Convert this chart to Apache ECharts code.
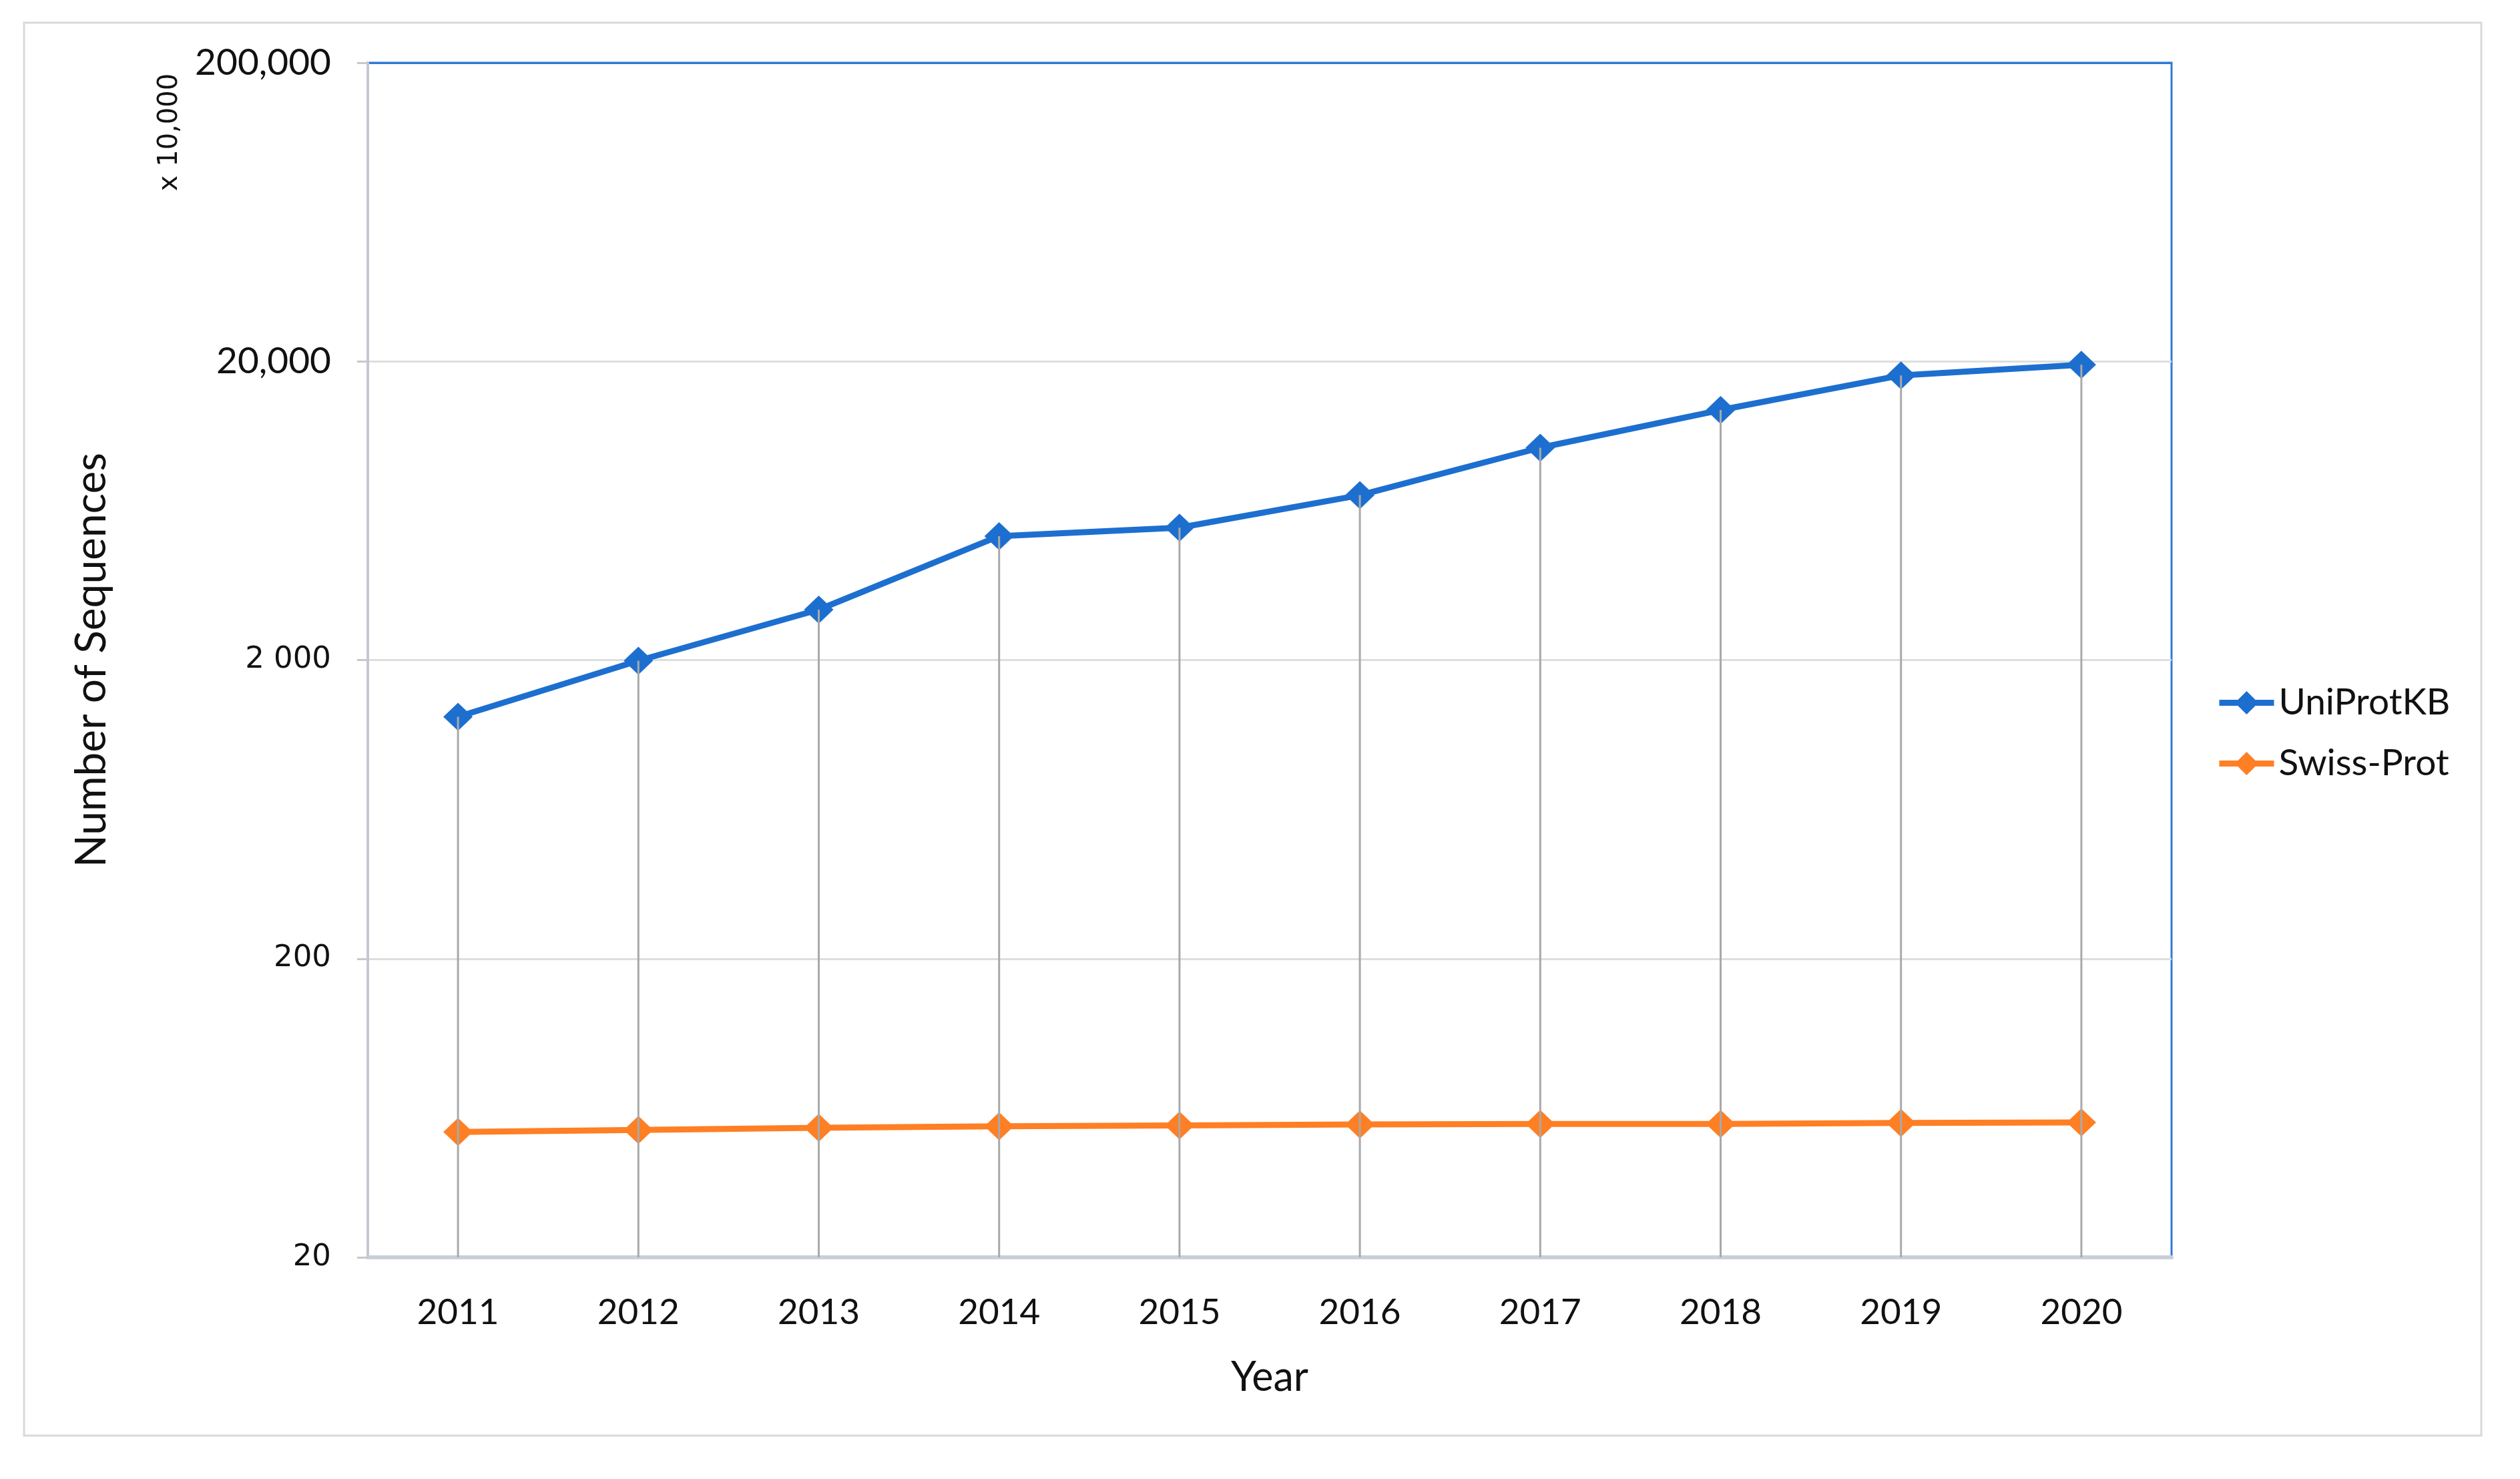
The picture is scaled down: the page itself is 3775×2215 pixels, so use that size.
<!DOCTYPE html>
<html>
<head>
<meta charset="utf-8">
<script src="https://cdn.jsdelivr.net/npm/echarts@6/dist/echarts.min.js"></script>
<style>
html,body{margin:0;padding:0;background:#fff;}
#chart{width:3775px;height:2215px;}
</style>
</head>
<body>
<div id="chart"></div>
<script>
// ---- data ----
const years = ['2011','2012','2013','2014','2015','2016','2017','2018','2019','2020'];
const uniprotKB = [1291, 1990, 2950, 5200, 5550, 7130, 10280, 13750, 17960, 19500];
const swissProt = [52.6, 53.4, 54.3, 54.9, 55.3, 55.7, 55.9, 55.9, 56.4, 56.6];
const yTickValues = [20, 200, 2000, 20000, 200000];
const yTickLabels = ['20', '200', '2 000', '20,000', '200,000'];
const seriesNames = ['UniProtKB', 'Swiss-Prot'];

const BLUE = '#1d6fcf';
const ORANGE = '#ff7f24';
const FRAME_BLUE = '#2f7bd6';
const GRID_GRAY = '#dedede';
const Y_MIN = yTickValues[0];
const Y_MAX = yTickValues[yTickValues.length - 1];

const chart = echarts.init(document.getElementById('chart'), null, {renderer: 'canvas'});

function yLabel(v) {
  let best = 0, bd = Infinity;
  yTickValues.forEach((t, i) => {
    const d = Math.abs(Math.log10(v) - Math.log10(t));
    if (d < bd) { bd = d; best = i; }
  });
  const txt = yTickLabels[best];
  return (txt.indexOf(',') >= 0 ? '{a|' : '{b|') + txt + '}';
}

// grid-line colours: all light gray except the topmost, which is the blue frame
const splitColors = yTickValues.map((v, i) => i === yTickValues.length - 1 ? FRAME_BLUE : GRID_GRAY);

const option = {
  animation: false,
  backgroundColor: '#ffffff',
  graphic: [
    {
      type: 'rect', z: -10, silent: true,
      shape: {x: 36, y: 34, width: 3681, height: 2116},
      style: {fill: 'none', stroke: '#d9d9d9', lineWidth: 3}
    },
    {
      type: 'text', silent: true,
      x: 255, y: 198, rotation: Math.PI / 2,
      style: {
        text: 'x 10,000', fill: '#111', font: '40px "DejaVu Sans"',
        align: 'center', verticalAlign: 'middle'
      }
    }
  ],
  legend: {
    data: seriesNames,
    orient: 'vertical',
    left: 3315,
    top: 1020,
    itemWidth: 82,
    itemHeight: 44,
    itemGap: 36,
    lineStyle: {width: 9},
    textStyle: {fontFamily: 'Lato', fontSize: 55, color: '#111', padding: [0, 0, 0, 2]}
  },
  grid: {
    left: 551, right: 522, top: 94, bottom: 332,
    containLabel: false,
    outerBoundsMode: 'none',
    show: true,
    borderColor: FRAME_BLUE,
    borderWidth: 3,
    backgroundColor: 'transparent'
  },
  xAxis: {
    type: 'category',
    data: years,
    boundaryGap: true,
    name: 'Year',
    nameLocation: 'middle',
    nameGap: 150,
    nameTextStyle: {fontFamily: 'Lato', fontSize: 61, color: '#111'},
    axisLine: {show: true, lineStyle: {color: '#c9cfd9', width: 6}},
    axisTick: {show: false},
    axisLabel: {fontFamily: 'Lato', fontSize: 53, color: '#111', margin: 56},
    splitLine: {show: false}
  },
  yAxis: {
    type: 'log',
    logBase: 10,
    min: Y_MIN,
    max: Y_MAX,
    name: 'Number of Sequences',
    nameLocation: 'middle',
    nameGap: 382,
    nameRotate: 90,
    nameTextStyle: {fontFamily: 'Lato', fontSize: 64, color: '#111'},
    axisLine: {show: true, lineStyle: {color: '#c3c8d1', width: 4}},
    axisTick: {show: true, inside: false, length: 16, customValues: yTickValues,
               lineStyle: {color: '#c8c8c8', width: 3}},
    axisLabel: {
      customValues: yTickValues,
      margin: 55,
      formatter: yLabel,
      rich: {
        a: {fontFamily: 'Lato', fontSize: 55, color: '#111'},
        b: {fontFamily: 'DejaVu Sans', fontSize: 45, color: '#111'}
      }
    },
    splitLine: {show: true, lineStyle: {color: splitColors, width: 3}}
  },
  series: [
    {
      name: seriesNames[0],
      type: 'line',
      data: uniprotKB,
      symbol: 'diamond',
      symbolSize: [44, 42],
      lineStyle: {color: BLUE, width: 9},
      itemStyle: {color: BLUE},
      z: 2
    },
    {
      name: seriesNames[1],
      type: 'line',
      data: swissProt,
      symbol: 'diamond',
      symbolSize: [44, 42],
      lineStyle: {color: ORANGE, width: 9},
      itemStyle: {color: ORANGE},
      z: 2
    },
    {
      name: 'dropLines',
      type: 'custom',
      z: 3,
      silent: true,
      data: uniprotKB.map((v, i) => [i, v]),
      renderItem: function (params, api) {
        const top = api.coord([api.value(0), api.value(1)]);
        const bottom = api.coord([api.value(0), Y_MIN]);
        return {
          type: 'line',
          shape: {x1: top[0], y1: top[1], x2: bottom[0], y2: bottom[1]},
          style: {stroke: '#a9a9a9', lineWidth: 3}
        };
      }
    }
  ]
};

chart.setOption(option);
</script>
</body>
</html>
